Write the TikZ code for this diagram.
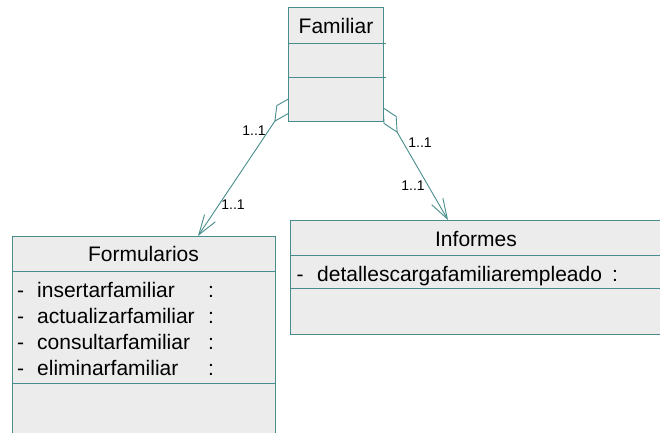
\documentclass[tikz,border=0pt]{standalone}
\usepackage{fontspec}
\setmainfont{Liberation Sans}
\usetikzlibrary{arrows.meta,calc,positioning}
\pgfdeclarelayer{background}
\pgfsetlayers{background,main}
\definecolor{umlteal}{RGB}{72,140,140}
\definecolor{umlfill}{RGB}{236,236,236}

\begin{document}
\begin{tikzpicture}[x=1pt,y=-1pt,
  classbox/.style={draw=umlteal,fill=umlfill,line width=0.9pt,inner sep=0pt,anchor=north west},
  sepline/.style={draw=umlteal,line width=0.9pt},
  classtext/.style={inner sep=0pt,font=\fontsize{21}{25}\selectfont},
  multtext/.style={inner sep=0pt,anchor=base,font=\fontsize{14}{16}\selectfont},
  assoc/.style={draw=umlteal,line width=0.9pt,
    {Diamond[open,length=30pt,width=15pt]}-{Straight Barb[length=20pt,width=13pt]}}]
\useasboundingbox (0,0) rectangle (660,432);
\node[classbox,minimum width=95pt,minimum height=114pt] (familiar) at (288,7) {};
\node[classbox,minimum width=263pt,minimum height=205pt] (formularios) at (12,236) {};
\node[classbox,minimum width=375pt,minimum height=114pt] (informes) at (290,220) {};
\draw[sepline] ($(familiar.north west)+(0,36)$) -- ($(familiar.north east)+(2,36)$);
\draw[sepline] ($(familiar.north west)+(0,70)$) -- ($(familiar.north east)+(2,70)$);
\draw[sepline] ($(formularios.north west)+(0,35)$) -- ($(formularios.north east)+(0,35)$);
\draw[sepline] ($(formularios.north west)+(0,147)$) -- ($(formularios.north east)+(0,147)$);
\draw[sepline] ($(informes.north west)+(0,35)$) -- ($(informes.north east)+(0,35)$);
\draw[sepline] ($(informes.north west)+(0,68)$) -- ($(informes.north east)+(0,68)$);
\node[classtext,anchor=base] (familiartitle) at (336,33) {Familiar};
\node[classtext,anchor=base] (formulariostitle) at (143.5,261) {Formularios};
\node[classtext,anchor=base] (informestitle) at (476,246) {Informes};
\foreach \attr [count=\i] in {insertarfamiliar,actualizarfamiliar,consultarfamiliar,eliminarfamiliar} {
  \node[classtext,anchor=base] (formdash\i) at (20.7,271+26*\i) {-};
  \node[classtext,anchor=base west] (formattr\i) at (37,271+26*\i) {\attr};
  \node[classtext,anchor=base] (formcolon\i) at (211,271+26*\i) {:};
}
\node[classtext,anchor=base] (infdash1) at (300,281) {-};
\node[classtext,anchor=base west] (infattr1) at (317,281) {detallescargafamiliarempleado};
\node[classtext,anchor=base] (infcolon1) at (615,281) {:};
\coordinate (famleft) at ($(familiar.north west)+(3,90)$);
\coordinate (famright) at ($(familiar.north east)+(-1.3,100)$);
\coordinate (formtop) at ($(formularios.north west)+(186,0)$);
\coordinate (inftop) at ($(informes.north west)+(158,0)$);
\begin{pgfonlayer}{background}
\draw[assoc] (famleft) -- (formtop);
\draw[assoc] (famright) -- (inftop);
\end{pgfonlayer}
\node[multtext] (multfamform) at (254,135) {1..1};
\node[multtext] (multformfam) at (233,209) {1..1};
\node[multtext] (multfaminf) at (420,147) {1..1};
\node[multtext] (multinffam) at (413,190) {1..1};
\end{tikzpicture}
\end{document}
